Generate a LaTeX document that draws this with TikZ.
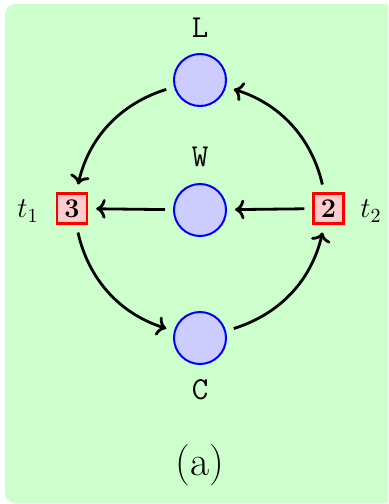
\documentclass[tikz,border=0pt]{standalone}
\usetikzlibrary{arrows.meta}
\definecolor{bggreen}{RGB}{204,255,204}
\begin{document}
\begin{tikzpicture}[x=0.5pt,y=-0.5pt,
  place/.style={circle,draw=blue,fill=blue!20,line width=1pt,minimum size=26pt,inner sep=0pt},
  trans/.style={rectangle,draw=red,fill=red!20,line width=1.2pt,minimum size=15pt,inner sep=0pt,font=\fontsize{13.5}{16}\selectfont\bfseries},
  lbl/.style={font=\fontsize{16}{19}\selectfont\ttfamily},
  tl/.style={font=\Large},
  arc/.style={->,line width=1.4pt,shorten >=4pt,shorten <=4pt}]
\useasboundingbox (0,0) rectangle (388,504);
\begin{scope}
\clip (0,0) rectangle (388,504);
\fill[bggreen,rounded corners=5pt] (5,4) rectangle (410,503);
\end{scope}
\node[place] (L) at (200,80) {};
\node[place] (W) at (200,210) {};
\node[place] (C) at (200,338) {};
\node[trans] (s3) at (72,208.5) {3};
\node[trans] (s2) at (328.5,208.5) {2};
\node[lbl] (Ll) at (200,28) {L};
\node[lbl] (Wl) at (200,157) {W};
\node[lbl] (Cl) at (200,390) {C};
\node[tl] (t1) at (28,211) {$t_1$};
\node[tl] (t2) at (371,211) {$t_2$};
\node[font=\huge] (cap) at (200,465) {(a)};
\draw[arc] (L) to[bend right=30] (s3);
\draw[arc] (s3) to[bend right=30] (C);
\draw[arc] (C) to[bend right=30] (s2);
\draw[arc] (s2) to[bend right=30] (L);
\draw[arc] (s2) -- (W);
\draw[arc] (W) -- (s3);
\end{tikzpicture}
\end{document}
